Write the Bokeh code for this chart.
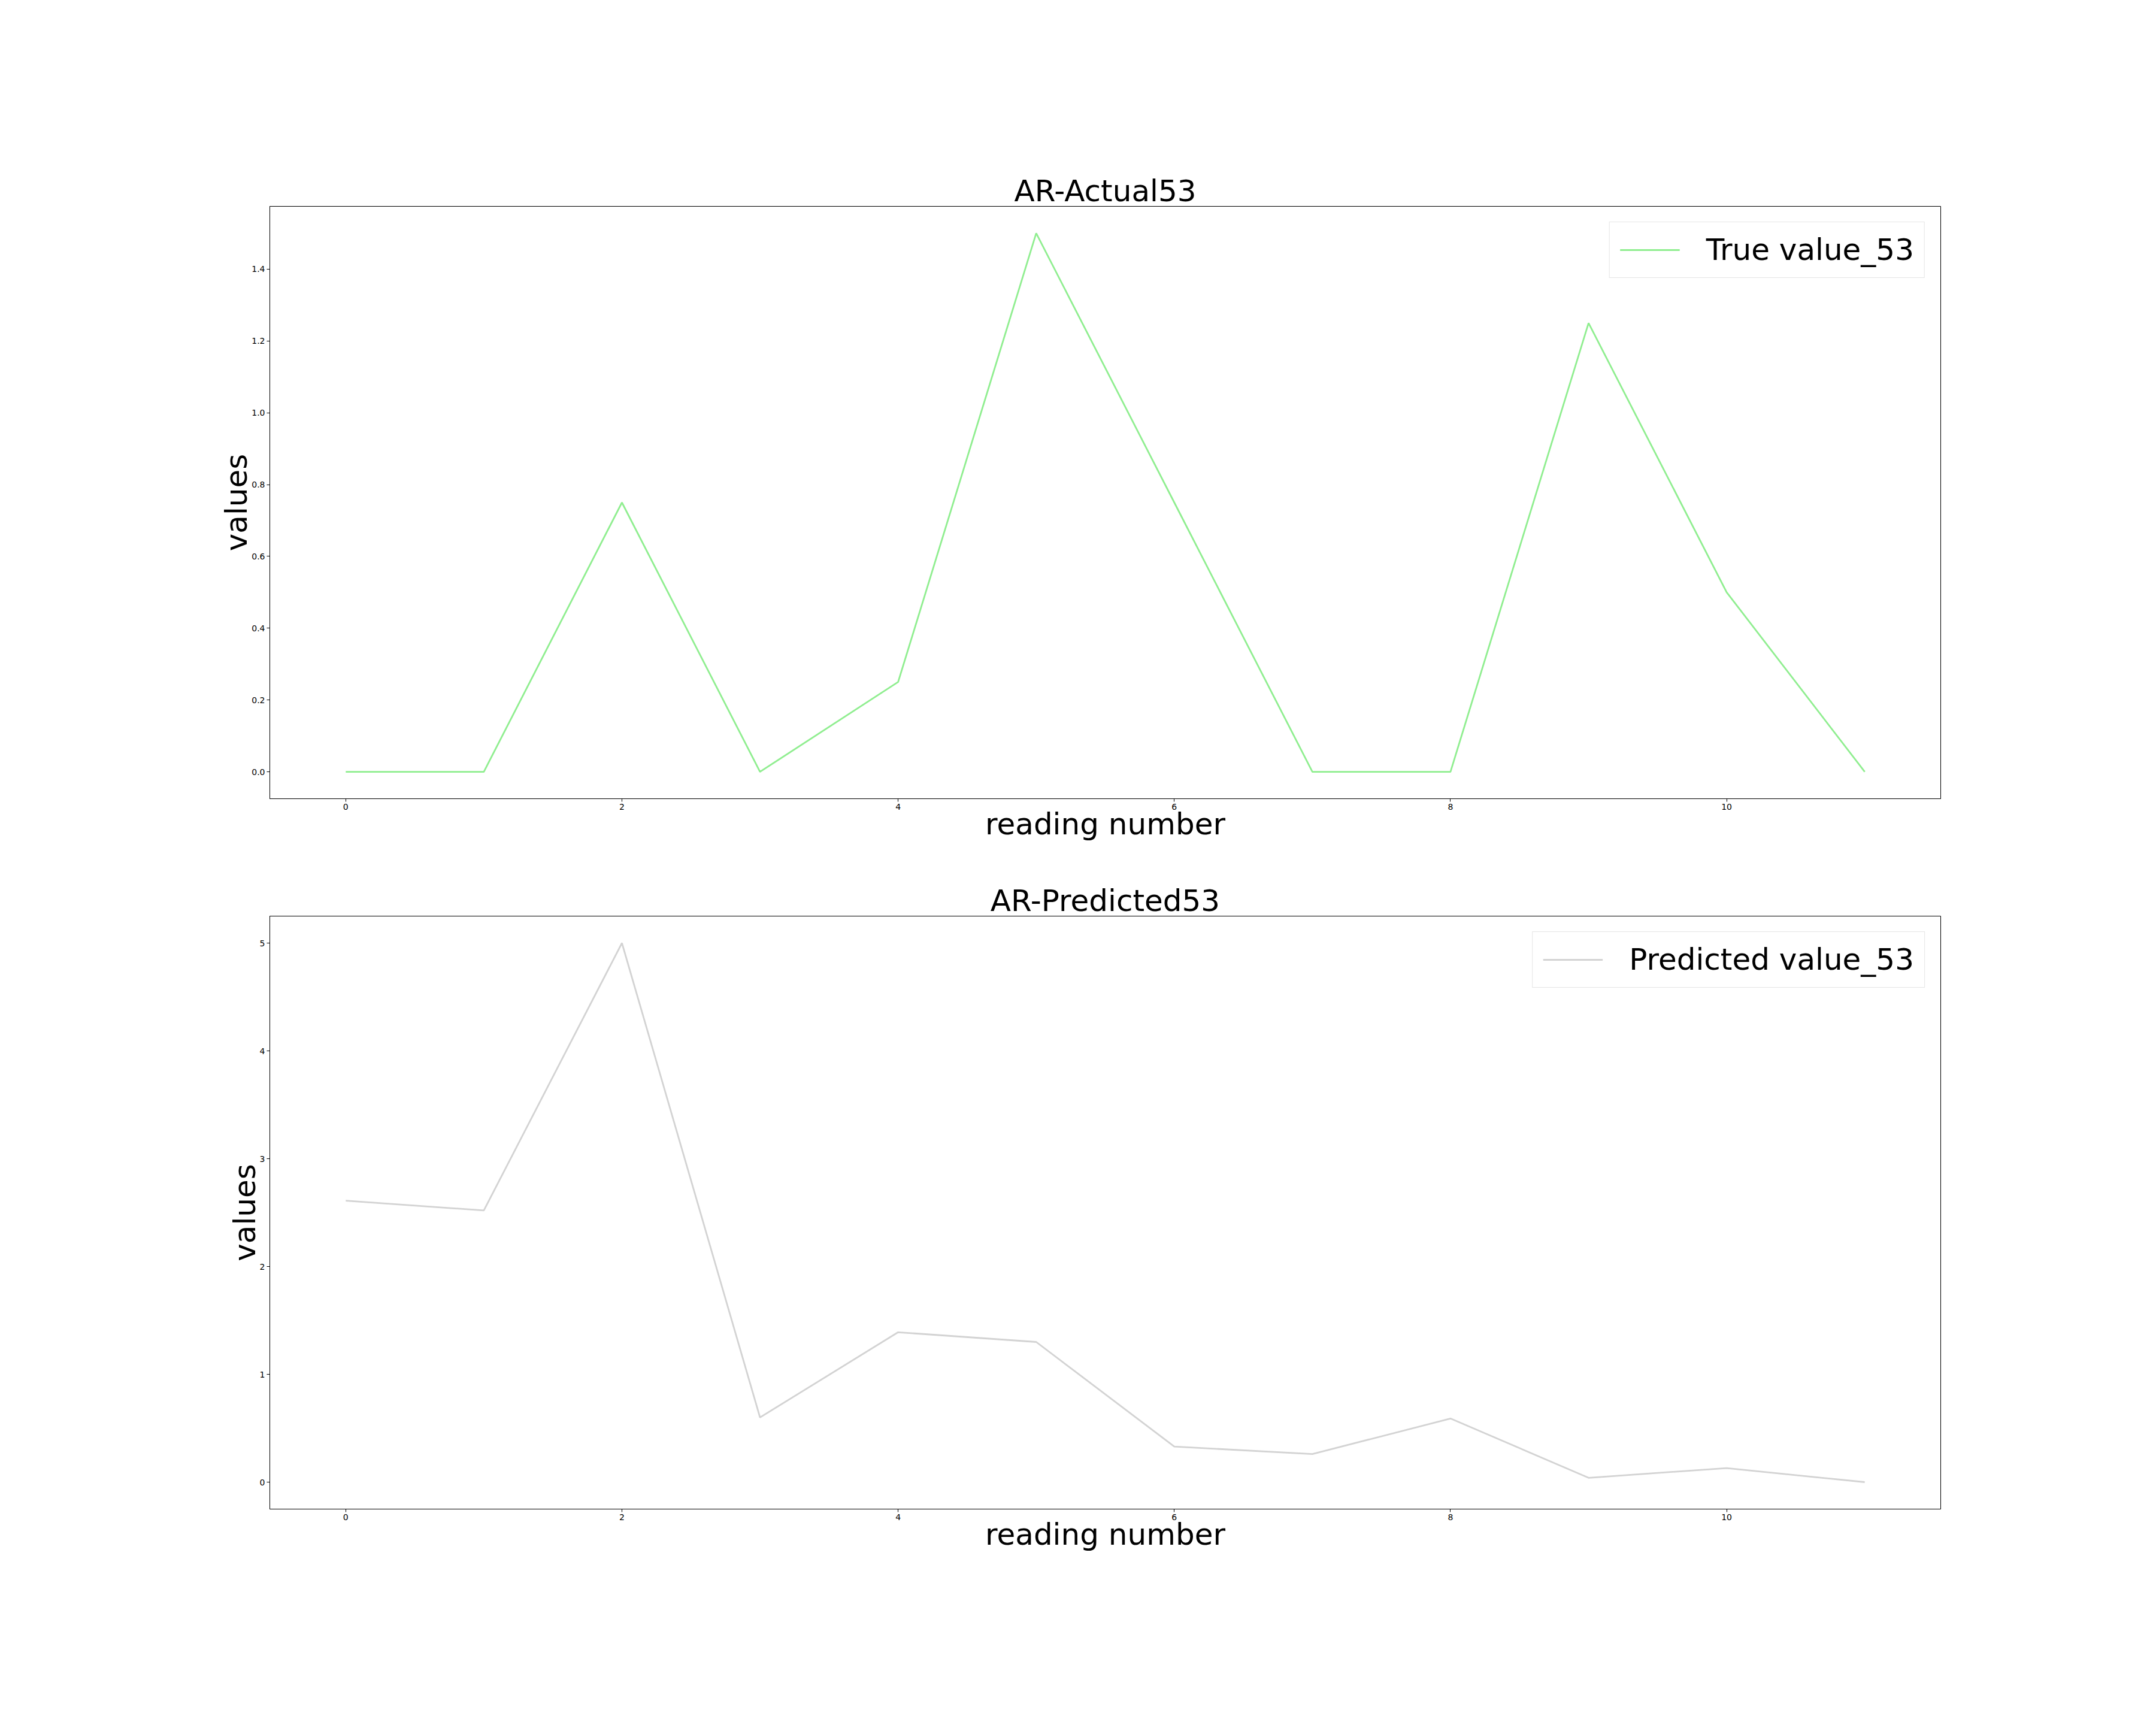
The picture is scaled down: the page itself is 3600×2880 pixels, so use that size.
from bokeh.plotting import figure
from bokeh.layouts import column
from bokeh.models import Range1d, FixedTicker, NumeralTickFormatter, Legend, LegendItem
from bokeh.embed import file_html
from bokeh.resources import INLINE

reading = [0, 1, 2, 3, 4, 5, 6, 7, 8, 9, 10, 11]
true_values = [0.0, 0.0, 0.75, 0.0, 0.25, 1.5, 0.75, 0.0, 0.0, 1.25, 0.5, 0.0]
predicted_values = [2.61, 2.52, 5.0, 0.60, 1.39, 1.30, 0.33, 0.26, 0.59, 0.04, 0.13, 0.0]
x_ticks = [0, 2, 4, 6, 8, 10]
y_ticks_top = [0.0, 0.2, 0.4, 0.6, 0.8, 1.0, 1.2, 1.4]
y_ticks_bottom = [0, 1, 2, 3, 4, 5]

FONT = "DejaVu Sans"


def make_fig(title, ys, yticks, ylo, yhi, color, label, fmt, top, bottom, height):
    p = figure(width=3600, height=height, output_backend="svg", toolbar_location=None,
               x_range=Range1d(-0.55, 11.55), y_range=Range1d(ylo, yhi),
               min_border_left=450, min_border_right=360,
               min_border_top=top, min_border_bottom=bottom)
    p.title.text = title
    p.title.align = "center"
    p.title.text_font = FONT
    p.title.text_font_size = "50px"
    p.title.text_font_style = "normal"
    p.title.text_color = "black"
    p.title.standoff = -7
    p.grid.visible = False
    p.outline_line_color = "black"
    p.outline_line_width = 1
    p.outline_line_alpha = 1
    p.background_fill_color = "white"
    p.border_fill_color = "white"

    r = p.line(reading, ys, line_color=color, line_width=2.8)

    for ax in (p.xaxis[0], p.yaxis[0]):
        ax.axis_line_color = "black"
        ax.major_tick_line_color = "black"
        ax.major_tick_out = 5
        ax.major_tick_in = 0
        ax.minor_tick_line_color = None
        ax.major_label_text_font = FONT
        ax.major_label_text_font_size = "14px"
        ax.major_label_text_color = "black"
        ax.axis_label_text_font = FONT
        ax.axis_label_text_font_size = "50px"
        ax.axis_label_text_font_style = "normal"
        ax.axis_label_text_color = "black"
        ax.major_label_standoff = 3
    p.xaxis[0].ticker = FixedTicker(ticks=x_ticks)
    p.yaxis[0].ticker = FixedTicker(ticks=yticks)
    p.yaxis[0].formatter = NumeralTickFormatter(format=fmt)
    p.xaxis[0].axis_label = "reading number"
    p.yaxis[0].axis_label = "values"
    p.xaxis[0].axis_label_standoff = -8
    p.yaxis[0].axis_label_standoff = -7

    legend = Legend(items=[LegendItem(label=label, renderers=[r])], location="top_right")
    legend.margin = 26
    legend.label_text_font = FONT
    legend.label_text_font_size = "50px"
    legend.label_text_color = "black"
    legend.glyph_width = 100
    legend.glyph_height = 40
    legend.label_standoff = 44
    legend.padding = 17
    legend.border_line_color = "#cccccc"
    legend.border_line_width = 1.5
    legend.background_fill_color = "white"
    legend.background_fill_alpha = 0.8
    p.add_layout(legend)
    return p


p1 = make_fig("AR-Actual53", true_values, y_ticks_top, -0.075, 1.575, "#90ee90",
              "True value_53", "0.0", 344, 107, 1440)
p2 = make_fig("AR-Predicted53", predicted_values, y_ticks_bottom, -0.25, 5.25, "#d3d3d3",
              "Predicted value_53", "0", 89, 361, 1440)

layout = column(p1, p2, spacing=0)
open("out.html", "w").write(file_html(layout, INLINE))
